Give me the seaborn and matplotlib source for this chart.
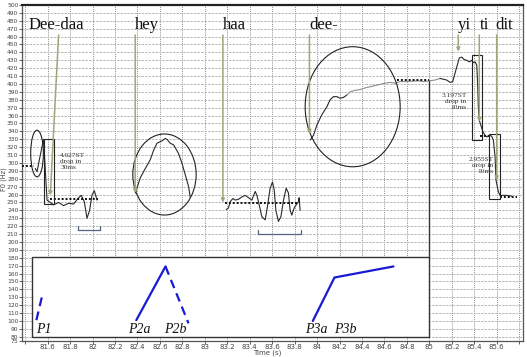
import numpy as np
import pandas as pd
import matplotlib
matplotlib.use("Agg")
import matplotlib.pyplot as plt
import seaborn as sns
from matplotlib.patches import Ellipse, Rectangle

# ---------------- data ----------------
# F0 traces (time s, Hz)
dee_daa_t = [81.49, 81.506, 81.535, 81.564, 81.58, 81.595, 81.653, 81.698, 81.742, 81.787,
             81.831, 81.876, 81.90, 81.927, 81.951, 81.974, 81.995, 82.016, 82.04]
dee_daa_f = [293, 289, 310, 330, 290, 253, 247, 250, 246, 249,
             248, 256, 259, 251, 230, 240, 259, 265, 253]

hey_t = [82.381, 82.425, 82.47, 82.514, 82.544, 82.574, 82.618, 82.648, 82.663, 82.692,
         82.722, 82.766, 82.796, 82.826, 82.856, 82.87]
hey_f = [262, 281, 293, 304, 316, 325, 328, 331, 330, 325,
         323, 312, 300, 285, 270, 257]

haa_t = [83.191, 83.211, 83.226, 83.25, 83.271, 83.30, 83.33, 83.36, 83.389, 83.419,
         83.449, 83.464, 83.478, 83.508, 83.538, 83.558, 83.582, 83.603, 83.618, 83.633,
         83.656, 83.678, 83.701, 83.725, 83.745, 83.76, 83.775, 83.796, 83.814, 83.834,
         83.84, 83.849]
haa_f = [241, 243, 251, 255, 253, 254, 257, 259, 256, 253,
         264, 259, 251, 232, 228, 245, 268, 276, 266, 240,
         226, 232, 253, 268, 262, 240, 234, 243, 247, 251,
         256, 240]

dee_dark_t = [83.938, 83.968, 83.998, 84.042, 84.087, 84.116, 84.146, 84.176, 84.205, 84.235, 84.265]
dee_dark_f = [329, 335, 348, 361, 371, 380, 384, 384, 382, 383, 386]
dee_gray_t = [84.265, 84.294, 84.339, 84.383, 84.428, 84.487, 84.546, 84.606, 84.65, 84.695,
              84.739, 84.80, 84.90, 84.95, 85.0, 85.05, 85.095]
dee_gray_f = [386, 390, 392, 393, 395, 397, 399, 401, 402, 401,
              403, 403, 404, 403, 404, 405, 407]

yi_t = [85.095, 85.125, 85.155, 85.185, 85.208, 85.229, 85.249, 85.267, 85.289, 85.309,
        85.333, 85.356, 85.378, 85.392, 85.407, 85.422, 85.431, 85.436, 85.445, 85.458,
        85.476, 85.496, 85.511, 85.534, 85.555, 85.57, 85.585, 85.594, 85.614, 85.629,
        85.689, 85.734]
yi_f = [407, 406, 405, 402, 403, 414, 424, 433, 434, 431,
        430, 428, 430, 427, 428, 424, 397, 371, 354, 348,
        340, 335, 333, 335, 334, 329, 308, 278, 264, 259,
        259, 258]

# dotted reference levels: (start, end, level)
ref_start = [81.375, 81.625, 83.182, 84.71, 85.45, 85.63]
ref_end = [81.48, 82.05, 83.843, 85.0, 85.54, 85.78]
ref_level = [296, 254, 249, 405, 334, 257]

# pitch-target model lines (inset)
p1_t, p1_f = [81.50, 81.555], [101, 134]
p2a_t, p2a_f = [82.39, 82.65], [101, 169]
p2b_t, p2b_f = [82.65, 82.855], [169, 97]
p3_t, p3_f = [83.962, 84.155, 84.68], [100, 155, 169]

# syllable labels
syll_text = ["Dee-daa", "hey", "haa", "dee-", "yi", "ti", "dit"]
syll_x = [81.428, 82.38, 83.164, 83.93, 85.256, 85.452, 85.585]
arrow_x0 = [81.698, 82.38, 83.161, 83.932, 85.258, 85.445, 85.60]
arrow_x1 = [81.624, 82.38, 83.161, 83.932, 85.258, 85.445, 85.60]
arrow_y1 = [259, 262, 250, 337, 441, 352, 278]

p_labels = ["P1", "P2a", "P2b", "P3a", "P3b"]
p_label_x = [81.493, 82.321, 82.635, 83.894, 84.155]

drop_text = ["4.027ST\ndrop in\n30ms", "3.197ST\ndrop in\n10ms", "2.955ST\ndrop in\n10ms"]

xticks = np.round(np.arange(81.4, 85.81, 0.2), 1)
yticks = [75] + list(range(80, 501, 10))

# ---------------- figure ----------------
sns.set_style("ticks")
plt.rcParams["font.family"] = ["DejaVu Sans"]
fig = plt.figure(figsize=(5.27, 3.57), dpi=100)
ax = fig.add_axes([22 / 527, 1 - 340.7 / 357, 501 / 527, 335.7 / 357])
ax.set_xlim(81.372, 85.834)
ax.set_ylim(75, 500)

ax.set_xticks(xticks)
ax.set_xticklabels(["" if (t < 81.5 or t > 85.7) else f"{t:g}" for t in xticks],
                   fontsize=5, color="#444")
ax.set_yticks(yticks)
ax.set_yticklabels([str(v) for v in yticks], fontsize=4.3, color="#444")
ax.tick_params(axis="both", length=2, width=0.6, pad=0.6, colors="#444")
ax.xaxis.grid(True, linestyle=(0, (1, 1.2)), color="#8a8a8a", lw=0.7)
ax.yaxis.grid(True, linestyle=(0, (3, 1.2)), color="#b0b0b0", lw=0.6)
ax.set_axisbelow(True)
for s in ["left", "bottom", "right"]:
    ax.spines[s].set_linewidth(0.9)
    ax.spines[s].set_color("#555")
ax.spines["top"].set_linewidth(1.6)
ax.spines["top"].set_color("#222")
ax.set_ylabel("F0 (Hz)", fontsize=4.8, color="#444")
ax.yaxis.set_label_coords(-0.0295, 0.48)
ax.set_xlabel("Time (s)", fontsize=5, color="#444")
ax.xaxis.set_label_coords(0.49, -0.0265)

# inset white box
ax.add_patch(Rectangle((81.461, 79.5), 85.0 - 81.461, 181 - 79.5, facecolor="white",
                       edgecolor="#333", lw=1.0, zorder=2))
ax.plot([85.0, 85.0], [181, 405], color="#333", lw=1.0, zorder=2)

trace_kw = dict(sort=False, estimator=None, legend=False, ax=ax, zorder=4)
sns.lineplot(x=dee_daa_t, y=dee_daa_f, color="#2a2a2a", lw=0.8, **trace_kw)
sns.lineplot(x=hey_t, y=hey_f, color="#2a2a2a", lw=0.8, **trace_kw)
sns.lineplot(x=haa_t, y=haa_f, color="#2a2a2a", lw=0.8, **trace_kw)
sns.lineplot(x=dee_dark_t, y=dee_dark_f, color="#2a2a2a", lw=0.8, **trace_kw)
sns.lineplot(x=dee_gray_t, y=dee_gray_f, color="#8c8c8c", lw=0.8, **trace_kw)
sns.lineplot(x=yi_t, y=yi_f, color="#2a2a2a", lw=0.8, **trace_kw)

for a, b, lv in zip(ref_start, ref_end, ref_level):
    sns.lineplot(x=[a, b], y=[lv, lv], color="#111", lw=1.4,
                 linestyle=(0, (1, 1)), **trace_kw)

# pitch targets
blue = "#1a1ad6"
sns.lineplot(x=p1_t, y=p1_f, color=blue, lw=1.6, linestyle=(0, (4, 2.5)), **trace_kw)
sns.lineplot(x=p2a_t, y=p2a_f, color=blue, lw=1.6, **trace_kw)
sns.lineplot(x=p2b_t, y=p2b_f, color=blue, lw=1.6, linestyle=(0, (4, 2.5)), **trace_kw)
sns.lineplot(x=p3_t, y=p3_f, color=blue, lw=1.6, **trace_kw)
for lab, lx in zip(p_labels, p_label_x):
    ax.text(lx, 81.5, lab, fontsize=10, style="italic", family="Liberation Serif",
            ha="left", va="bottom", color="#111", zorder=5)

# ellipses & boxes
for (cx, cy, w, h) in [(81.506, 312, 0.113, 59), (82.641, 285.4, 0.564, 102.6),
                       (84.317, 371.2, 0.846, 152)]:
    ax.add_patch(Ellipse((cx, cy), w, h, fill=False, edgecolor="#222", lw=0.8, zorder=5))
for (x0, y0, w, h) in [(81.57, 248, 0.085, 82), (85.378, 329.1, 0.089, 107.6),
                       (85.534, 254, 0.095, 82.3)]:
    ax.add_patch(Rectangle((x0, y0), w, h, fill=False, edgecolor="#222", lw=0.8, zorder=5))

# brackets
for (x0, x1, yb, yt) in [(81.867, 82.069, 215, 220), (83.478, 83.855, 210, 215)]:
    ax.plot([x0, x0, x1, x1], [yt, yb, yb, yt], color="#55647e", lw=0.9, zorder=5)

# syllable labels with olive arrows
olive = "#a3a37a"
for txt, tx, a0, a1, y1 in zip(syll_text, syll_x, arrow_x0, arrow_x1, arrow_y1):
    ax.text(tx, 464.5, txt, fontsize=12, family="Liberation Serif", ha="left",
            va="bottom", color="#111", zorder=6)
    ax.annotate("", xy=(a1, y1), xytext=(a0, 462),
                arrowprops=dict(arrowstyle="-|>", color=olive, lw=1.1,
                                mutation_scale=5, shrinkA=0, shrinkB=0), zorder=6)

ax.text(81.713, 312, drop_text[0], fontsize=5.3, family="Liberation Serif",
        ha="left", va="top", color="#333", linespacing=1.25, zorder=6)
ax.text(85.33, 388, drop_text[1], fontsize=5.3, family="Liberation Serif",
        ha="right", va="top", color="#333", linespacing=1.25, zorder=6)
ax.text(85.57, 308, drop_text[2], fontsize=5.3, family="Liberation Serif",
        ha="right", va="top", color="#333", linespacing=1.25, zorder=6)

fig.savefig("out.png", dpi=100)
